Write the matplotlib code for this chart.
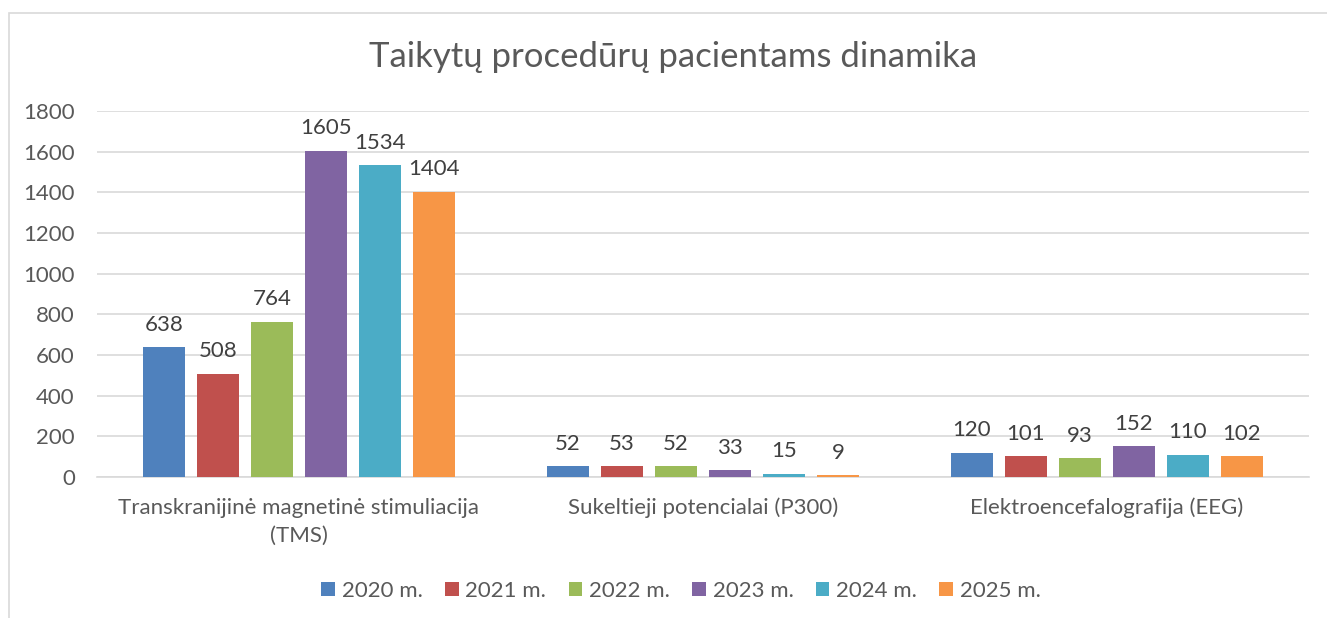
import matplotlib
matplotlib.use("Agg")
import matplotlib.pyplot as plt
import numpy as np
from matplotlib.patches import Rectangle

plt.rcParams['font.family'] = ['Lato', 'DejaVu Sans']

categories = ["Transkranijinė magnetinė stimuliacija\n(TMS)",
              "Sukeltieji potencialai (P300)",
              "Elektroencefalografija (EEG)"]
series_names = ["2020 m.", "2021 m.", "2022 m.", "2023 m.", "2024 m.", "2025 m."]
v2020 = [638, 52, 120]
v2021 = [508, 53, 101]
v2022 = [764, 52, 93]
v2023 = [1605, 33, 152]
v2024 = [1534, 15, 110]
v2025 = [1404, 9, 102]
series_values = [v2020, v2021, v2022, v2023, v2024, v2025]
colors = ["#4F81BD", "#C0504D", "#9BBB59", "#8064A2", "#4BACC6", "#F79646"]
title = "Taikytų procedūrų pacientams dinamika"
yticks = [0, 200, 400, 600, 800, 1000, 1200, 1400, 1600, 1800]

W, H = 1327, 618
fig = plt.figure(figsize=(W/100, H/100), dpi=100)
fig.patch.set_facecolor("white")

# chart border
fig.patches.append(Rectangle((9/W, -0.05), 1.1, 1 - 13/H + 0.05, transform=fig.transFigure,
                             fill=False, edgecolor="#D9D9D9", linewidth=1.2))

ax = fig.add_axes([97/W, 1 - 477/H, (1309-97)/W, (477-111)/H])
text_color = "#595959"

x = np.arange(len(categories))
step = 54/404
bw = 42/404
n = len(series_values)
for i, (vals, c, name) in enumerate(zip(series_values, colors, series_names)):
    pos = x + (i - (n-1)/2) * step
    bars = ax.bar(pos, vals, width=bw, color=c, label=name, zorder=3)
    for b, v in zip(bars, vals):
        ax.annotate(str(v), (b.get_x() + b.get_width()/2, v), xytext=(0, 9),
                    textcoords="offset points", ha="center", va="bottom",
                    fontsize=16, color="#404040")

ax.set_xlim(-0.5, 2.5)
ax.set_ylim(0, 1800)
ax.set_yticks(yticks)
ax.yaxis.grid(True, color="#D9D9D9", linewidth=1.2, zorder=0)
ax.set_axisbelow(True)
for s in ["top", "right", "left"]:
    ax.spines[s].set_visible(False)
ax.spines["bottom"].set_color("#D9D9D9")
ax.spines["bottom"].set_linewidth(1.2)
ax.tick_params(axis="y", length=0, pad=16, labelsize=16, labelcolor=text_color)
ax.tick_params(axis="x", length=0, pad=15, labelsize=16, labelcolor=text_color)
ax.set_xticks(x)
ax.set_xticklabels(categories, linespacing=1.5)

fig.text(673/W, 1 - 57/H, title, ha="center", va="center", fontsize=25, color=text_color)

leg = fig.legend(loc="center", bbox_to_anchor=(681/W, 1 - 591/H), ncol=6, frameon=False,
                 fontsize=16, handlelength=0.62, handleheight=0.62, handletextpad=0.3,
                 columnspacing=1.0, labelcolor=text_color)

fig.savefig("out.png", dpi=100)
